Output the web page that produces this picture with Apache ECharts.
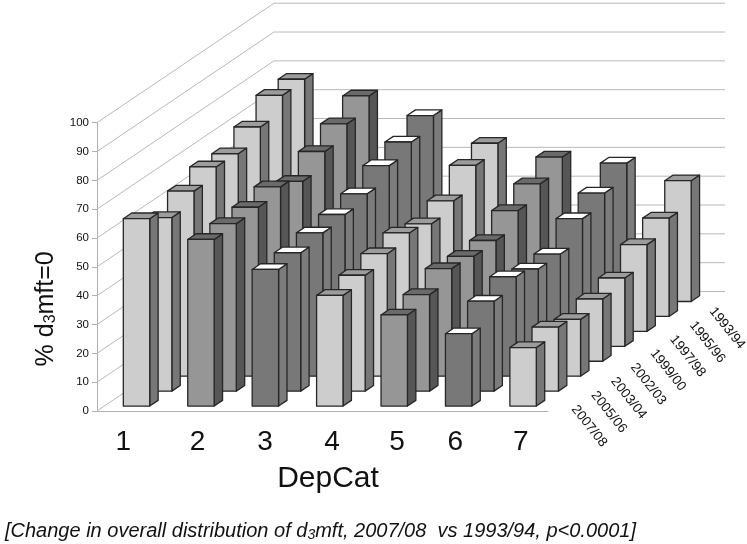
<!DOCTYPE html>
<html>
<head>
<meta charset="utf-8">
<style>html,body{margin:0;padding:0;background:#fff}#c{width:747px;height:544px}</style>
<script src="https://cdn.jsdelivr.net/npm/echarts@6/dist/echarts.min.js"></script>
</head>
<body>
<div id="c"></div>
<script>
const depCats = ['1', '2', '3', '4', '5', '6', '7'];
const yTicks = [0, 10, 20, 30, 40, 50, 60, 70, 80, 90, 100];
const years = ['2007/08', '2005/06', '2003/04', '2002/03', '1999/00', '1997/98', '1995/96', '1993/94'];

const y2007_08 = [65.0, 57.8, 47.4, 38.4, 31.6, 25.1, 20.3];
const y2005_06 = [60.2, 58.1, 48.0, 40.2, 33.5, 31.2, 22.2];
const y2003_04 = [64.2, 58.6, 49.7, 42.5, 37.3, 34.5, 19.7];
const y2002_03 = [67.4, 60.5, 50.9, 44.5, 36.4, 32.0, 21.6];
const y1999_00 = [66.8, 57.2, 52.9, 42.5, 36.7, 32.0, 23.7];
const y1997_98 = [70.9, 62.4, 57.5, 45.3, 41.9, 39.1, 30.1];
const y1995_96 = [76.7, 66.8, 60.5, 52.4, 46.0, 42.8, 34.1];
const y1993_94 = [77.1, 71.3, 64.5, 54.9, 50.1, 48.0, 41.9];
const rows = [y2007_08, y2005_06, y2003_04, y2002_03, y1999_00, y1997_98, y1995_96, y1993_94];

// Oblique projection of the depth axis
const wallDX = 177, wallDY = -119.5;
const stepX = wallDX / rows.length, stepY = wallDY / rows.length;
const barDepthRows = 0.38, barFrontRows = 0.33, barWidthShare = 0.41;

// face, side, top
const palette = {
  light: ['#cdcdcd', '#777777', '#9c9c9c'],
  mid: ['#969696', '#565656', '#6a6a6a'],
  dark: ['#787878', '#7c7c7c', '#ffffff']
};
const catTone = ['light', 'mid', 'dark', 'light', 'mid', 'dark', 'light'];
const labelShift = [-6, 4, 7, 9.5, 10, 4, 5];

function poly(points, fill) {
  return { type: 'polygon', shape: { points }, style: { fill, stroke: '#262626', lineWidth: 1.3, lineJoin: 'round' } };
}

function renderBar(rowIndex) {
  return function (params, api) {
    const cat = api.value(0), val = api.value(1);
    const base = api.coord([cat, 0]), top = api.coord([cat, val]);
    const w = api.size([1, 0])[0] * barWidthShare;
    const ox = stepX * (rowIndex + barFrontRows), oy = stepY * (rowIndex + barFrontRows);
    const l = base[0] - w / 2 + ox, r = l + w;
    const b = base[1] + oy, t = top[1] + oy;
    const dx = stepX * barDepthRows, dy = stepY * barDepthRows;
    const c = palette[catTone[cat]];
    return {
      type: 'group',
      children: [
        poly([[r, b], [r + dx, b + dy], [r + dx, t + dy], [r, t]], c[1]),
        poly([[l, t], [r, t], [r + dx, t + dy], [l + dx, t + dy]], c[2]),
        poly([[l, b], [r, b], [r, t], [l, t]], c[0])
      ]
    };
  };
}

function renderWall(params, api) {
  const v = api.value(0);
  const half = api.size([1, 0])[0] / 2;
  const p0 = api.coord([0, v]), p1 = api.coord([depCats.length - 1, v]);
  const x0 = p0[0] - half, x1 = p1[0] + half, y = p0[1];
  return {
    type: 'polyline',
    shape: { points: [[x0, y], [x0 + wallDX, y + wallDY], [x1 + wallDX, y + wallDY]] },
    style: { fill: 'none', stroke: '#b9b9b9', lineWidth: 1 }
  };
}

function renderDepthLabel(params, api) {
  const r = api.value(0);
  const last = api.coord([depCats.length - 1, 0]);
  const half = api.size([1, 0])[0] / 2;
  return {
    type: 'text',
    x: last[0] + half + 26 + 19.7 * r,
    y: last[1] - 4 - 14 * r,
    rotation: -0.9,
    style: { text: years[r], fill: '#111', font: '13.5px "Liberation Sans"', align: 'left', verticalAlign: 'middle' }
  };
}

const series = [
  { type: 'custom', name: 'walls', silent: true, clip: false, renderItem: renderWall, data: yTicks.map(v => [v]), encode: { y: 0 } }
];
for (let r = rows.length - 1; r >= 0; r--) {
  series.push({
    type: 'custom', name: years[r], clip: false, renderItem: renderBar(r),
    data: rows[r].map((v, i) => [i, v]), encode: { x: 0, y: 1 }
  });
}
series.push({
  type: 'custom', name: 'depth labels', silent: true, clip: false, renderItem: renderDepthLabel,
  data: years.map((y, i) => [i]), encode: { x: -1, y: -1 }
});

const shiftRich = {};
depCats.forEach((c, i) => {
  const s = labelShift[i] * 2;
  shiftRich['c' + i] = { fontSize: 28, fontFamily: 'Liberation Sans', color: '#111', padding: s > 0 ? [0, 0, 0, s] : [0, -s, 0, 0] };
});

const chart = echarts.init(document.getElementById('c'), null, { renderer: 'canvas' });
chart.setOption({
  animation: false,
  backgroundColor: '#fff',
  title: {
    text: '[Change in overall distribution of d{s|3}mft, 2007/08  vs 1993/94, p<0.0001]',
    left: 0, top: 515,
    textStyle: {
      fontFamily: 'Liberation Sans', fontSize: 20, fontStyle: 'italic', fontWeight: 'normal', color: '#111',
      rich: { s: { fontFamily: 'Liberation Sans', fontSize: 14, fontStyle: 'italic', color: '#111', verticalAlign: 'bottom', padding: [8, 0, 0, 0] } }
    }
  },
  grid: { left: 97, right: 199, top: 122.7, bottom: 133 },
  xAxis: {
    type: 'category', data: depCats,
    name: 'DepCat', nameLocation: 'middle', nameGap: 53,
    nameTextStyle: { fontFamily: 'Liberation Sans', fontSize: 30, color: '#111', padding: [0, 0, 0, 11] },
    axisLine: { lineStyle: { color: '#b0b0b0', width: 1 } },
    axisTick: { length: 5, lineStyle: { color: '#b0b0b0' } },
    axisLabel: {
      margin: 17,
      formatter: (v, i) => '{c' + i + '|' + v + '}',
      rich: shiftRich
    },
    splitLine: { show: false }
  },
  yAxis: {
    type: 'value', min: 0, max: 100, interval: 10,
    name: '% d{s|3}mft=0', nameLocation: 'middle', nameGap: 35, nameRotate: 90,
    nameTextStyle: {
      fontFamily: 'Liberation Sans', fontSize: 25, color: '#111', padding: [0, 84, 0, 0],
      rich: { s: { fontFamily: 'Liberation Sans', fontSize: 16, color: '#111', verticalAlign: 'bottom', padding: [8, 0, 0, 0] } }
    },
    axisLine: { show: true, lineStyle: { color: '#b0b0b0', width: 1 } },
    axisTick: { show: true, length: 5, lineStyle: { color: '#b0b0b0' } },
    axisLabel: { fontFamily: 'Liberation Sans', fontSize: 11.5, color: '#111', margin: 8 },
    splitLine: { show: false }
  },
  series
});
</script>
</body>
</html>
